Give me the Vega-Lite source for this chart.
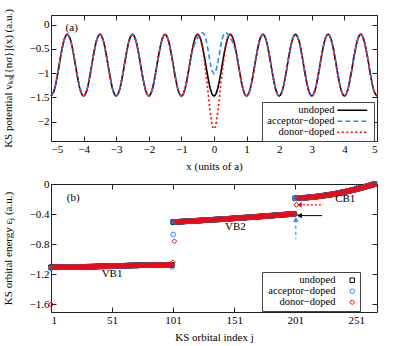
{
"$schema":"https://vega.github.io/schema/vega-lite/v6.json",
"padding":{"left":1,"top":8,"right":0,"bottom":0},
"bounds":"flush",
"spacing":43,
"resolve":{"scale":{"color":"independent","strokeDash":"independent","shape":"independent","size":"independent"},"legend":{"color":"independent","strokeDash":"independent","shape":"independent","size":"independent"}},
"config":{
"font":"Liberation Serif",
"view":{"stroke":"#222","strokeWidth":1},
"axis":{"domain":false,"grid":false,"tickSize":-5,"tickColor":"#222","labelFontSize":11,"labelColor":"#000","labelPadding":7,"titleFontSize":11,"titleFontWeight":"normal","titleColor":"#000","format":".3~g"},
"axisX":{"titlePadding":6},
"axisY":{"titlePadding":16}
},
"vconcat":[
{
"width":326,"height":126,
"data":{"values":[
{"x":-5,"u":-1.47,"v":-1.47,"w":-1.47},{"x":-4.9,"u":-1.349,"v":-1.349,"w":-1.349},{"x":-4.8,"u":-1.031,"v":-1.031,"w":-1.031},{"x":-4.7,"u":-0.639,"v":-0.639,"w":-0.639},{"x":-4.6,"u":-0.321,"v":-0.321,"w":-0.321},{"x":-4.5,"u":-0.2,"v":-0.2,"w":-0.2},{"x":-4.4,"u":-0.321,"v":-0.321,"w":-0.321},{"x":-4.3,"u":-0.639,"v":-0.639,"w":-0.639},{"x":-4.2,"u":-1.031,"v":-1.031,"w":-1.031},{"x":-4.1,"u":-1.349,"v":-1.349,"w":-1.349},
{"x":-4,"u":-1.47,"v":-1.47,"w":-1.47},{"x":-3.9,"u":-1.349,"v":-1.349,"w":-1.349},{"x":-3.8,"u":-1.031,"v":-1.031,"w":-1.031},{"x":-3.7,"u":-0.639,"v":-0.639,"w":-0.639},{"x":-3.6,"u":-0.321,"v":-0.321,"w":-0.321},{"x":-3.5,"u":-0.2,"v":-0.2,"w":-0.2},{"x":-3.4,"u":-0.321,"v":-0.321,"w":-0.321},{"x":-3.3,"u":-0.639,"v":-0.639,"w":-0.639},{"x":-3.2,"u":-1.031,"v":-1.031,"w":-1.031},{"x":-3.1,"u":-1.349,"v":-1.349,"w":-1.349},
{"x":-3,"u":-1.47,"v":-1.47,"w":-1.47},{"x":-2.9,"u":-1.349,"v":-1.349,"w":-1.349},{"x":-2.8,"u":-1.031,"v":-1.031,"w":-1.031},{"x":-2.7,"u":-0.639,"v":-0.639,"w":-0.639},{"x":-2.6,"u":-0.321,"v":-0.321,"w":-0.321},{"x":-2.5,"u":-0.2,"v":-0.2,"w":-0.2},{"x":-2.4,"u":-0.321,"v":-0.321,"w":-0.321},{"x":-2.3,"u":-0.639,"v":-0.639,"w":-0.639},{"x":-2.2,"u":-1.031,"v":-1.031,"w":-1.031},{"x":-2.1,"u":-1.349,"v":-1.349,"w":-1.349},
{"x":-2,"u":-1.47,"v":-1.47,"w":-1.47},{"x":-1.9,"u":-1.349,"v":-1.349,"w":-1.349},{"x":-1.8,"u":-1.031,"v":-1.031,"w":-1.031},{"x":-1.7,"u":-0.639,"v":-0.639,"w":-0.639},{"x":-1.6,"u":-0.321,"v":-0.321,"w":-0.321},{"x":-1.5,"u":-0.2,"v":-0.2,"w":-0.2},{"x":-1.4,"u":-0.321,"v":-0.321,"w":-0.321},{"x":-1.3,"u":-0.639,"v":-0.639,"w":-0.639},{"x":-1.2,"u":-1.031,"v":-1.031,"w":-1.031},{"x":-1.1,"u":-1.349,"v":-1.349,"w":-1.349},
{"x":-1,"u":-1.47,"v":-1.47,"w":-1.47},{"x":-0.95,"u":-1.439,"v":-1.439,"w":-1.439},{"x":-0.9,"u":-1.349,"v":-1.349,"w":-1.349},{"x":-0.85,"u":-1.208,"v":-1.208,"w":-1.208},{"x":-0.8,"u":-1.031,"v":-1.031,"w":-1.031},{"x":-0.75,"u":-0.835,"v":-0.835,"w":-0.835},{"x":-0.7,"u":-0.639,"v":-0.639,"w":-0.639},
{"x":-0.65,"u":-0.462,"v":-0.51,"w":-0.462},{"x":-0.6,"u":-0.321,"v":-0.41,"w":-0.321},{"x":-0.55,"u":-0.231,"v":-0.33,"w":-0.231},{"x":-0.5,"u":-0.2,"v":-0.27,"w":-0.2},{"x":-0.45,"u":-0.231,"v":-0.22,"w":-0.235},{"x":-0.4,"u":-0.321,"v":-0.18,"w":-0.33},{"x":-0.35,"u":-0.462,"v":-0.165,"w":-0.49},{"x":-0.3,"u":-0.639,"v":-0.2,"w":-0.71},{"x":-0.25,"u":-0.835,"v":-0.3,"w":-0.98},{"x":-0.2,"u":-1.031,"v":-0.46,"w":-1.28},{"x":-0.15,"u":-1.208,"v":-0.66,"w":-1.6},{"x":-0.1,"u":-1.349,"v":-0.84,"w":-1.88},{"x":-0.05,"u":-1.439,"v":-0.96,"w":-2.08},
{"x":0,"u":-1.47,"v":-1.01,"w":-2.15},
{"x":0.05,"u":-1.439,"v":-0.96,"w":-2.08},{"x":0.1,"u":-1.349,"v":-0.84,"w":-1.88},{"x":0.15,"u":-1.208,"v":-0.66,"w":-1.6},{"x":0.2,"u":-1.031,"v":-0.46,"w":-1.28},{"x":0.25,"u":-0.835,"v":-0.3,"w":-0.98},{"x":0.3,"u":-0.639,"v":-0.2,"w":-0.71},{"x":0.35,"u":-0.462,"v":-0.165,"w":-0.49},{"x":0.4,"u":-0.321,"v":-0.18,"w":-0.33},{"x":0.45,"u":-0.231,"v":-0.22,"w":-0.235},{"x":0.5,"u":-0.2,"v":-0.27,"w":-0.2},{"x":0.55,"u":-0.231,"v":-0.33,"w":-0.231},{"x":0.6,"u":-0.321,"v":-0.41,"w":-0.321},{"x":0.65,"u":-0.462,"v":-0.51,"w":-0.462},
{"x":0.7,"u":-0.639,"v":-0.639,"w":-0.639},{"x":0.75,"u":-0.835,"v":-0.835,"w":-0.835},{"x":0.8,"u":-1.031,"v":-1.031,"w":-1.031},{"x":0.85,"u":-1.208,"v":-1.208,"w":-1.208},{"x":0.9,"u":-1.349,"v":-1.349,"w":-1.349},{"x":0.95,"u":-1.439,"v":-1.439,"w":-1.439},{"x":1,"u":-1.47,"v":-1.47,"w":-1.47},
{"x":1.1,"u":-1.349,"v":-1.349,"w":-1.349},{"x":1.2,"u":-1.031,"v":-1.031,"w":-1.031},{"x":1.3,"u":-0.639,"v":-0.639,"w":-0.639},{"x":1.4,"u":-0.321,"v":-0.321,"w":-0.321},{"x":1.5,"u":-0.2,"v":-0.2,"w":-0.2},{"x":1.6,"u":-0.321,"v":-0.321,"w":-0.321},{"x":1.7,"u":-0.639,"v":-0.639,"w":-0.639},{"x":1.8,"u":-1.031,"v":-1.031,"w":-1.031},{"x":1.9,"u":-1.349,"v":-1.349,"w":-1.349},
{"x":2,"u":-1.47,"v":-1.47,"w":-1.47},{"x":2.1,"u":-1.349,"v":-1.349,"w":-1.349},{"x":2.2,"u":-1.031,"v":-1.031,"w":-1.031},{"x":2.3,"u":-0.639,"v":-0.639,"w":-0.639},{"x":2.4,"u":-0.321,"v":-0.321,"w":-0.321},{"x":2.5,"u":-0.2,"v":-0.2,"w":-0.2},{"x":2.6,"u":-0.321,"v":-0.321,"w":-0.321},{"x":2.7,"u":-0.639,"v":-0.639,"w":-0.639},{"x":2.8,"u":-1.031,"v":-1.031,"w":-1.031},{"x":2.9,"u":-1.349,"v":-1.349,"w":-1.349},
{"x":3,"u":-1.47,"v":-1.47,"w":-1.47},{"x":3.1,"u":-1.349,"v":-1.349,"w":-1.349},{"x":3.2,"u":-1.031,"v":-1.031,"w":-1.031},{"x":3.3,"u":-0.639,"v":-0.639,"w":-0.639},{"x":3.4,"u":-0.321,"v":-0.321,"w":-0.321},{"x":3.5,"u":-0.2,"v":-0.2,"w":-0.2},{"x":3.6,"u":-0.321,"v":-0.321,"w":-0.321},{"x":3.7,"u":-0.639,"v":-0.639,"w":-0.639},{"x":3.8,"u":-1.031,"v":-1.031,"w":-1.031},{"x":3.9,"u":-1.349,"v":-1.349,"w":-1.349},
{"x":4,"u":-1.47,"v":-1.47,"w":-1.47},{"x":4.1,"u":-1.349,"v":-1.349,"w":-1.349},{"x":4.2,"u":-1.031,"v":-1.031,"w":-1.031},{"x":4.3,"u":-0.639,"v":-0.639,"w":-0.639},{"x":4.4,"u":-0.321,"v":-0.321,"w":-0.321},{"x":4.5,"u":-0.2,"v":-0.2,"w":-0.2},{"x":4.6,"u":-0.321,"v":-0.321,"w":-0.321},{"x":4.7,"u":-0.639,"v":-0.639,"w":-0.639},{"x":4.8,"u":-1.031,"v":-1.031,"w":-1.031},{"x":4.9,"u":-1.349,"v":-1.349,"w":-1.349},
{"x":5,"u":-1.47,"v":-1.47,"w":-1.47}
]},
"layer":[
{"transform":[{"fold":["u","v","w"],"as":["key","val"]}],
"mark":{"type":"line","interpolate":"monotone","strokeWidth":1.6},
"encoding":{
"x":{"field":"x","type":"quantitative","scale":{"domain":[-5,5],"nice":false,"zero":false},"axis":{"values":[-5,-4,-3,-2,-1,0,1,2,3,4,5],"title":"x (units of a)"}},
"y":{"field":"val","type":"quantitative","scale":{"domain":[-2.4,0.2],"nice":false,"zero":false},"axis":{"values":[0,-0.5,-1,-1.5,-2],"title":"KS potential vₖₛ[{nσ}](x) (a.u.)"}},
"color":{"field":"key","type":"nominal","scale":{"domain":["u","v","w"],"range":["#000000","#1f8fff","#ff0000"]},
"legend":{"orient":"none","legendX":211,"legendY":87,"title":null,"symbolType":"M-5,0H5","symbolSize":36,"symbolStrokeWidth":1.6,"symbolOffset":82,"labelAlign":"right","labelOffset":-23,"labelFontSize":10.5,"rowPadding":0,"padding":3,"fillColor":"#ffffff","strokeColor":"#444444","labelExpr":"datum.value == 'u' ? 'undoped' : datum.value == 'v' ? 'acceptor−doped' : 'donor−doped'"}},
"strokeDash":{"field":"key","type":"nominal","scale":{"domain":["u","v","w"],"range":[[1,0],[5,3],[2,2.5]]},
"legend":{"orient":"none","legendX":211,"legendY":87,"title":null,"symbolType":"M-5,0H5","symbolSize":36,"symbolStrokeWidth":1.6,"symbolOffset":82,"labelAlign":"right","labelOffset":-23,"labelFontSize":10.5,"rowPadding":0,"padding":3,"fillColor":"#ffffff","strokeColor":"#444444","labelExpr":"datum.value == 'u' ? 'undoped' : datum.value == 'v' ? 'acceptor−doped' : 'donor−doped'"}}
}},
{"data":{"values":[{"x":-4.365,"y":-0.07,"t":"(a)"}]},
"mark":{"type":"text","align":"center","baseline":"middle","fontSize":11},
"encoding":{
"x":{"field":"x","type":"quantitative","scale":{"domain":[-5,5],"nice":false,"zero":false},"axis":{"orient":"top","labels":false,"title":null,"values":[-5,-4,-3,-2,-1,0,1,2,3,4,5]}},
"y":{"field":"y","type":"quantitative","scale":{"domain":[-2.4,0.2],"nice":false,"zero":false},"axis":{"orient":"right","labels":false,"title":null,"values":[0,-0.5,-1,-1.5,-2]}},
"text":{"field":"t"}}}
],
"resolve":{"axis":{"x":"independent","y":"independent"}}
},
{
"width":326,"height":128,
"layer":[
{"data":{"values":[
{"j":1,"u":-1.105,"v":-1.12,"w":-1.6},{"j":2,"u":-1.105,"v":-1.105,"w":-1.105},{"j":3,"u":-1.105,"v":-1.105,"w":-1.105},{"j":4,"u":-1.105,"v":-1.105,"w":-1.105},{"j":5,"u":-1.105,"v":-1.105,"w":-1.105},{"j":6,"u":-1.105,"v":-1.105,"w":-1.105},{"j":7,"u":-1.105,"v":-1.105,"w":-1.105},{"j":8,"u":-1.105,"v":-1.105,"w":-1.105},{"j":9,"u":-1.105,"v":-1.105,"w":-1.105},
{"j":10,"u":-1.104,"v":-1.104,"w":-1.104},{"j":11,"u":-1.104,"v":-1.104,"w":-1.104},{"j":12,"u":-1.104,"v":-1.104,"w":-1.104},{"j":13,"u":-1.104,"v":-1.104,"w":-1.104},{"j":14,"u":-1.104,"v":-1.104,"w":-1.104},{"j":15,"u":-1.104,"v":-1.104,"w":-1.104},
{"j":16,"u":-1.103,"v":-1.103,"w":-1.103},{"j":17,"u":-1.103,"v":-1.103,"w":-1.103},{"j":18,"u":-1.103,"v":-1.103,"w":-1.103},{"j":19,"u":-1.103,"v":-1.103,"w":-1.103},
{"j":20,"u":-1.102,"v":-1.102,"w":-1.102},{"j":21,"u":-1.102,"v":-1.102,"w":-1.102},{"j":22,"u":-1.102,"v":-1.102,"w":-1.102},
{"j":23,"u":-1.101,"v":-1.101,"w":-1.101},{"j":24,"u":-1.101,"v":-1.101,"w":-1.101},{"j":25,"u":-1.101,"v":-1.101,"w":-1.101},{"j":26,"u":-1.101,"v":-1.101,"w":-1.101},
{"j":27,"u":-1.1,"v":-1.1,"w":-1.1},{"j":28,"u":-1.1,"v":-1.1,"w":-1.1},
{"j":29,"u":-1.099,"v":-1.099,"w":-1.099},{"j":30,"u":-1.099,"v":-1.099,"w":-1.099},{"j":31,"u":-1.099,"v":-1.099,"w":-1.099},
{"j":32,"u":-1.098,"v":-1.098,"w":-1.098},{"j":33,"u":-1.098,"v":-1.098,"w":-1.098},
{"j":34,"u":-1.097,"v":-1.097,"w":-1.097},{"j":35,"u":-1.097,"v":-1.097,"w":-1.097},{"j":36,"u":-1.097,"v":-1.097,"w":-1.097},
{"j":37,"u":-1.096,"v":-1.096,"w":-1.096},{"j":38,"u":-1.096,"v":-1.096,"w":-1.096},
{"j":39,"u":-1.095,"v":-1.095,"w":-1.095},{"j":40,"u":-1.095,"v":-1.095,"w":-1.095},
{"j":41,"u":-1.094,"v":-1.094,"w":-1.094},{"j":42,"u":-1.094,"v":-1.094,"w":-1.094},{"j":43,"u":-1.094,"v":-1.094,"w":-1.094},
{"j":44,"u":-1.093,"v":-1.093,"w":-1.093},{"j":45,"u":-1.093,"v":-1.093,"w":-1.093},
{"j":46,"u":-1.092,"v":-1.092,"w":-1.092},{"j":47,"u":-1.092,"v":-1.092,"w":-1.092},
{"j":48,"u":-1.091,"v":-1.091,"w":-1.091},{"j":49,"u":-1.091,"v":-1.091,"w":-1.091},
{"j":50,"u":-1.09,"v":-1.09,"w":-1.09},{"j":51,"u":-1.09,"v":-1.09,"w":-1.09},
{"j":52,"u":-1.089,"v":-1.089,"w":-1.089},{"j":53,"u":-1.089,"v":-1.089,"w":-1.089},
{"j":54,"u":-1.088,"v":-1.088,"w":-1.088},{"j":55,"u":-1.088,"v":-1.088,"w":-1.088},
{"j":56,"u":-1.087,"v":-1.087,"w":-1.087},{"j":57,"u":-1.087,"v":-1.087,"w":-1.087},
{"j":58,"u":-1.086,"v":-1.086,"w":-1.086},{"j":59,"u":-1.086,"v":-1.086,"w":-1.086},{"j":60,"u":-1.086,"v":-1.086,"w":-1.086},
{"j":61,"u":-1.085,"v":-1.085,"w":-1.085},{"j":62,"u":-1.085,"v":-1.085,"w":-1.085},
{"j":63,"u":-1.084,"v":-1.084,"w":-1.084},{"j":64,"u":-1.084,"v":-1.084,"w":-1.084},
{"j":65,"u":-1.083,"v":-1.083,"w":-1.083},{"j":66,"u":-1.083,"v":-1.083,"w":-1.083},{"j":67,"u":-1.083,"v":-1.083,"w":-1.083},
{"j":68,"u":-1.082,"v":-1.082,"w":-1.082},{"j":69,"u":-1.082,"v":-1.082,"w":-1.082},
{"j":70,"u":-1.081,"v":-1.081,"w":-1.081},{"j":71,"u":-1.081,"v":-1.081,"w":-1.081},{"j":72,"u":-1.081,"v":-1.081,"w":-1.081},
{"j":73,"u":-1.08,"v":-1.08,"w":-1.08},{"j":74,"u":-1.08,"v":-1.08,"w":-1.08},
{"j":75,"u":-1.079,"v":-1.079,"w":-1.079},{"j":76,"u":-1.079,"v":-1.079,"w":-1.079},{"j":77,"u":-1.079,"v":-1.079,"w":-1.079},{"j":78,"u":-1.079,"v":-1.079,"w":-1.079},
{"j":79,"u":-1.078,"v":-1.078,"w":-1.078},{"j":80,"u":-1.078,"v":-1.078,"w":-1.078},{"j":81,"u":-1.078,"v":-1.078,"w":-1.078},
{"j":82,"u":-1.077,"v":-1.077,"w":-1.077},{"j":83,"u":-1.077,"v":-1.077,"w":-1.077},{"j":84,"u":-1.077,"v":-1.077,"w":-1.077},{"j":85,"u":-1.077,"v":-1.077,"w":-1.077},
{"j":86,"u":-1.076,"v":-1.076,"w":-1.076},{"j":87,"u":-1.076,"v":-1.076,"w":-1.076},{"j":88,"u":-1.076,"v":-1.076,"w":-1.076},{"j":89,"u":-1.076,"v":-1.076,"w":-1.076},{"j":90,"u":-1.076,"v":-1.076,"w":-1.076},{"j":91,"u":-1.076,"v":-1.076,"w":-1.076},
{"j":92,"u":-1.075,"v":-1.075,"w":-1.075},{"j":93,"u":-1.075,"v":-1.075,"w":-1.075},{"j":94,"u":-1.075,"v":-1.075,"w":-1.075},{"j":95,"u":-1.075,"v":-1.075,"w":-1.075},{"j":96,"u":-1.075,"v":-1.075,"w":-1.075},{"j":97,"u":-1.075,"v":-1.075,"w":-1.075},{"j":98,"u":-1.075,"v":-1.075,"w":-1.075},{"j":99,"u":-1.075,"v":-1.075,"w":-1.075},
{"j":100,"u":-1.075,"v":-1.1,"w":-1.075},
{"j":101,"u":-0.505,"v":-0.67,"w":-1.04},
{"j":102,"u":-0.504,"v":-0.504,"w":-0.76},
{"j":103,"u":-0.503,"v":-0.503,"w":-0.503},{"j":104,"u":-0.502,"v":-0.502,"w":-0.502},{"j":105,"u":-0.502,"v":-0.502,"w":-0.502},{"j":106,"u":-0.501,"v":-0.501,"w":-0.501},{"j":107,"u":-0.5,"v":-0.5,"w":-0.5},{"j":108,"u":-0.499,"v":-0.499,"w":-0.499},{"j":109,"u":-0.498,"v":-0.498,"w":-0.498},{"j":110,"u":-0.497,"v":-0.497,"w":-0.497},
{"j":111,"u":-0.496,"v":-0.496,"w":-0.496},{"j":112,"u":-0.495,"v":-0.495,"w":-0.495},{"j":113,"u":-0.494,"v":-0.494,"w":-0.494},{"j":114,"u":-0.494,"v":-0.494,"w":-0.494},{"j":115,"u":-0.493,"v":-0.493,"w":-0.493},{"j":116,"u":-0.492,"v":-0.492,"w":-0.492},{"j":117,"u":-0.491,"v":-0.491,"w":-0.491},{"j":118,"u":-0.49,"v":-0.49,"w":-0.49},{"j":119,"u":-0.489,"v":-0.489,"w":-0.489},{"j":120,"u":-0.488,"v":-0.488,"w":-0.488},
{"j":121,"u":-0.487,"v":-0.487,"w":-0.487},{"j":122,"u":-0.486,"v":-0.486,"w":-0.486},{"j":123,"u":-0.485,"v":-0.485,"w":-0.485},{"j":124,"u":-0.484,"v":-0.484,"w":-0.484},{"j":125,"u":-0.483,"v":-0.483,"w":-0.483},{"j":126,"u":-0.482,"v":-0.482,"w":-0.482},{"j":127,"u":-0.481,"v":-0.481,"w":-0.481},{"j":128,"u":-0.48,"v":-0.48,"w":-0.48},{"j":129,"u":-0.479,"v":-0.479,"w":-0.479},{"j":130,"u":-0.478,"v":-0.478,"w":-0.478},
{"j":131,"u":-0.477,"v":-0.477,"w":-0.477},{"j":132,"u":-0.476,"v":-0.476,"w":-0.476},{"j":133,"u":-0.475,"v":-0.475,"w":-0.475},{"j":134,"u":-0.474,"v":-0.474,"w":-0.474},{"j":135,"u":-0.473,"v":-0.473,"w":-0.473},{"j":136,"u":-0.472,"v":-0.472,"w":-0.472},{"j":137,"u":-0.471,"v":-0.471,"w":-0.471},{"j":138,"u":-0.47,"v":-0.47,"w":-0.47},{"j":139,"u":-0.469,"v":-0.469,"w":-0.469},{"j":140,"u":-0.468,"v":-0.468,"w":-0.468},
{"j":141,"u":-0.467,"v":-0.467,"w":-0.467},{"j":142,"u":-0.466,"v":-0.466,"w":-0.466},{"j":143,"u":-0.465,"v":-0.465,"w":-0.465},{"j":144,"u":-0.464,"v":-0.464,"w":-0.464},{"j":145,"u":-0.463,"v":-0.463,"w":-0.463},{"j":146,"u":-0.462,"v":-0.462,"w":-0.462},{"j":147,"u":-0.461,"v":-0.461,"w":-0.461},{"j":148,"u":-0.46,"v":-0.46,"w":-0.46},{"j":149,"u":-0.458,"v":-0.458,"w":-0.458},{"j":150,"u":-0.457,"v":-0.457,"w":-0.457},
{"j":151,"u":-0.456,"v":-0.456,"w":-0.456},{"j":152,"u":-0.455,"v":-0.455,"w":-0.455},{"j":153,"u":-0.454,"v":-0.454,"w":-0.454},{"j":154,"u":-0.453,"v":-0.453,"w":-0.453},{"j":155,"u":-0.452,"v":-0.452,"w":-0.452},{"j":156,"u":-0.451,"v":-0.451,"w":-0.451},{"j":157,"u":-0.45,"v":-0.45,"w":-0.45},{"j":158,"u":-0.448,"v":-0.448,"w":-0.448},{"j":159,"u":-0.447,"v":-0.447,"w":-0.447},{"j":160,"u":-0.446,"v":-0.446,"w":-0.446},
{"j":161,"u":-0.445,"v":-0.445,"w":-0.445},{"j":162,"u":-0.444,"v":-0.444,"w":-0.444},{"j":163,"u":-0.443,"v":-0.443,"w":-0.443},{"j":164,"u":-0.442,"v":-0.442,"w":-0.442},{"j":165,"u":-0.44,"v":-0.44,"w":-0.44},{"j":166,"u":-0.439,"v":-0.439,"w":-0.439},{"j":167,"u":-0.438,"v":-0.438,"w":-0.438},{"j":168,"u":-0.437,"v":-0.437,"w":-0.437},{"j":169,"u":-0.436,"v":-0.436,"w":-0.436},{"j":170,"u":-0.434,"v":-0.434,"w":-0.434},
{"j":171,"u":-0.433,"v":-0.433,"w":-0.433},{"j":172,"u":-0.432,"v":-0.432,"w":-0.432},{"j":173,"u":-0.431,"v":-0.431,"w":-0.431},{"j":174,"u":-0.43,"v":-0.43,"w":-0.43},{"j":175,"u":-0.428,"v":-0.428,"w":-0.428},{"j":176,"u":-0.427,"v":-0.427,"w":-0.427},{"j":177,"u":-0.426,"v":-0.426,"w":-0.426},{"j":178,"u":-0.425,"v":-0.425,"w":-0.425},{"j":179,"u":-0.423,"v":-0.423,"w":-0.423},{"j":180,"u":-0.422,"v":-0.422,"w":-0.422},
{"j":181,"u":-0.421,"v":-0.421,"w":-0.421},{"j":182,"u":-0.42,"v":-0.42,"w":-0.42},{"j":183,"u":-0.418,"v":-0.418,"w":-0.418},{"j":184,"u":-0.417,"v":-0.417,"w":-0.417},{"j":185,"u":-0.416,"v":-0.416,"w":-0.416},{"j":186,"u":-0.415,"v":-0.415,"w":-0.415},{"j":187,"u":-0.413,"v":-0.413,"w":-0.413},{"j":188,"u":-0.412,"v":-0.412,"w":-0.412},{"j":189,"u":-0.411,"v":-0.411,"w":-0.411},{"j":190,"u":-0.41,"v":-0.41,"w":-0.41},
{"j":191,"u":-0.408,"v":-0.408,"w":-0.408},{"j":192,"u":-0.407,"v":-0.407,"w":-0.407},{"j":193,"u":-0.406,"v":-0.406,"w":-0.406},{"j":194,"u":-0.404,"v":-0.404,"w":-0.404},{"j":195,"u":-0.403,"v":-0.403,"w":-0.403},{"j":196,"u":-0.402,"v":-0.402,"w":-0.402},{"j":197,"u":-0.4,"v":-0.4,"w":-0.4},{"j":198,"u":-0.399,"v":-0.399,"w":-0.399},{"j":199,"u":-0.398,"v":-0.398,"w":-0.398},{"j":200,"u":-0.396,"v":-0.396,"w":-0.396},
{"j":201,"u":-0.19,"v":-0.19,"w":-0.4},{"j":202,"u":-0.189,"v":-0.189,"w":-0.277},
{"j":203,"u":-0.188,"v":-0.188,"w":-0.188},{"j":204,"u":-0.187,"v":-0.187,"w":-0.187},{"j":205,"u":-0.186,"v":-0.186,"w":-0.186},{"j":206,"u":-0.185,"v":-0.185,"w":-0.185},{"j":207,"u":-0.184,"v":-0.184,"w":-0.184},{"j":208,"u":-0.183,"v":-0.183,"w":-0.183},{"j":209,"u":-0.182,"v":-0.182,"w":-0.182},{"j":210,"u":-0.181,"v":-0.181,"w":-0.181},
{"j":211,"u":-0.179,"v":-0.179,"w":-0.179},{"j":212,"u":-0.178,"v":-0.178,"w":-0.178},{"j":213,"u":-0.176,"v":-0.176,"w":-0.176},{"j":214,"u":-0.175,"v":-0.175,"w":-0.175},{"j":215,"u":-0.173,"v":-0.173,"w":-0.173},{"j":216,"u":-0.171,"v":-0.171,"w":-0.171},{"j":217,"u":-0.17,"v":-0.17,"w":-0.17},{"j":218,"u":-0.168,"v":-0.168,"w":-0.168},{"j":219,"u":-0.166,"v":-0.166,"w":-0.166},{"j":220,"u":-0.164,"v":-0.164,"w":-0.164},
{"j":221,"u":-0.162,"v":-0.162,"w":-0.162},{"j":222,"u":-0.16,"v":-0.16,"w":-0.16},{"j":223,"u":-0.157,"v":-0.157,"w":-0.157},{"j":224,"u":-0.155,"v":-0.155,"w":-0.155},{"j":225,"u":-0.153,"v":-0.153,"w":-0.153},{"j":226,"u":-0.15,"v":-0.15,"w":-0.15},{"j":227,"u":-0.148,"v":-0.148,"w":-0.148},{"j":228,"u":-0.146,"v":-0.146,"w":-0.146},{"j":229,"u":-0.143,"v":-0.143,"w":-0.143},{"j":230,"u":-0.14,"v":-0.14,"w":-0.14},
{"j":231,"u":-0.138,"v":-0.138,"w":-0.138},{"j":232,"u":-0.135,"v":-0.135,"w":-0.135},{"j":233,"u":-0.132,"v":-0.132,"w":-0.132},{"j":234,"u":-0.129,"v":-0.129,"w":-0.129},{"j":235,"u":-0.126,"v":-0.126,"w":-0.126},{"j":236,"u":-0.123,"v":-0.123,"w":-0.123},{"j":237,"u":-0.12,"v":-0.12,"w":-0.12},{"j":238,"u":-0.117,"v":-0.117,"w":-0.117},{"j":239,"u":-0.113,"v":-0.113,"w":-0.113},{"j":240,"u":-0.11,"v":-0.11,"w":-0.11},
{"j":241,"u":-0.107,"v":-0.107,"w":-0.107},{"j":242,"u":-0.103,"v":-0.103,"w":-0.103},{"j":243,"u":-0.1,"v":-0.1,"w":-0.1},{"j":244,"u":-0.096,"v":-0.096,"w":-0.096},{"j":245,"u":-0.092,"v":-0.092,"w":-0.092},{"j":246,"u":-0.089,"v":-0.089,"w":-0.089},{"j":247,"u":-0.085,"v":-0.085,"w":-0.085},{"j":248,"u":-0.081,"v":-0.081,"w":-0.081},{"j":249,"u":-0.077,"v":-0.077,"w":-0.077},{"j":250,"u":-0.073,"v":-0.073,"w":-0.073},
{"j":251,"u":-0.069,"v":-0.069,"w":-0.069},{"j":252,"u":-0.065,"v":-0.065,"w":-0.065},{"j":253,"u":-0.061,"v":-0.061,"w":-0.061},{"j":254,"u":-0.057,"v":-0.057,"w":-0.057},{"j":255,"u":-0.052,"v":-0.052,"w":-0.052},{"j":256,"u":-0.048,"v":-0.048,"w":-0.048},{"j":257,"u":-0.043,"v":-0.043,"w":-0.043},{"j":258,"u":-0.039,"v":-0.039,"w":-0.039},{"j":259,"u":-0.034,"v":-0.034,"w":-0.034},{"j":260,"u":-0.03,"v":-0.03,"w":-0.03},
{"j":261,"u":-0.025,"v":-0.025,"w":-0.025},{"j":262,"u":-0.02,"v":-0.02,"w":-0.02},{"j":263,"u":-0.015,"v":-0.015,"w":-0.015},{"j":264,"u":-0.01,"v":-0.01,"w":-0.01},{"j":265,"u":-0.005,"v":-0.005,"w":-0.005},{"j":266,"u":0,"v":0,"w":0}
]},
"transform":[{"fold":["u","v","w"],"as":["key","val"]}],
"mark":{"type":"point","filled":false,"strokeWidth":1,"opacity":1},
"encoding":{
"x":{"field":"j","type":"quantitative","scale":{"domain":[1,268],"nice":false,"zero":false},"axis":{"values":[1,51,101,151,201,251],"title":"KS orbital index j"}},
"y":{"field":"val","type":"quantitative","scale":{"domain":[-1.7,0],"nice":false,"zero":false},"axis":{"values":[0,-0.4,-0.8,-1.2,-1.6],"title":"KS orbital energy εⱼ (a.u.)"}},
"color":{"field":"key","type":"nominal","scale":{"domain":["u","v","w"],"range":["#000000","#1f8fff","#ff0000"]},
"legend":{"orient":"none","legendX":211,"legendY":88,"title":null,"symbolStrokeWidth":1,"symbolOffset":82,"labelAlign":"right","labelOffset":-22,"labelFontSize":10.5,"rowPadding":0,"padding":3,"fillColor":"#ffffff","strokeColor":"#444444","labelExpr":"datum.value == 'u' ? 'undoped' : datum.value == 'v' ? 'acceptor−doped' : 'donor−doped'"}},
"shape":{"field":"key","type":"nominal","scale":{"domain":["u","v","w"],"range":["square","circle","diamond"]},
"legend":{"orient":"none","legendX":211,"legendY":88,"title":null,"symbolStrokeWidth":1,"symbolOffset":82,"labelAlign":"right","labelOffset":-22,"labelFontSize":10.5,"rowPadding":0,"padding":3,"fillColor":"#ffffff","strokeColor":"#444444","labelExpr":"datum.value == 'u' ? 'undoped' : datum.value == 'v' ? 'acceptor−doped' : 'donor−doped'"}},
"size":{"field":"key","type":"nominal","scale":{"domain":["u","v","w"],"range":[20,24,36]},
"legend":{"orient":"none","legendX":211,"legendY":88,"title":null,"symbolStrokeWidth":1,"symbolOffset":82,"labelAlign":"right","labelOffset":-22,"labelFontSize":10.5,"rowPadding":0,"padding":3,"fillColor":"#ffffff","strokeColor":"#444444","labelExpr":"datum.value == 'u' ? 'undoped' : datum.value == 'v' ? 'acceptor−doped' : 'donor−doped'"}},
"order":{"field":"key"}
}},
{"data":{"values":[{"j":203,"j2":223,"e":-0.42}]},
"mark":{"type":"rule","color":"#000000","strokeWidth":1},
"encoding":{"x":{"field":"j","type":"quantitative","axis":null},"x2":{"field":"j2"},"y":{"field":"e","type":"quantitative","axis":null}}},
{"data":{"values":[{"j":204,"j2":224,"e":-0.277}]},
"mark":{"type":"rule","color":"#ff0000","strokeWidth":1.2,"strokeDash":[2,2]},
"encoding":{"x":{"field":"j","type":"quantitative","axis":null},"x2":{"field":"j2"},"y":{"field":"e","type":"quantitative","axis":null}}},
{"data":{"values":[{"j":201.5,"e":-0.475,"e2":-0.73}]},
"mark":{"type":"rule","color":"#1f8fff","strokeWidth":1.2,"strokeDash":[3,3]},
"encoding":{"x":{"field":"j","type":"quantitative","axis":null},"y":{"field":"e","type":"quantitative","axis":null},"y2":{"field":"e2"}}},
{"data":{"values":[{"j":204.5,"e":-0.42}]},
"mark":{"type":"point","shape":"triangle-left","filled":true,"color":"#000000","size":30,"opacity":1},
"encoding":{"x":{"field":"j","type":"quantitative","axis":null},"y":{"field":"e","type":"quantitative","axis":null}}},
{"data":{"values":[{"j":204.5,"e":-0.277}]},
"mark":{"type":"point","shape":"triangle-left","filled":true,"color":"#ff0000","size":30,"opacity":1},
"encoding":{"x":{"field":"j","type":"quantitative","axis":null},"y":{"field":"e","type":"quantitative","axis":null}}},
{"data":{"values":[{"j":201.5,"e":-0.47}]},
"mark":{"type":"point","shape":"triangle-up","filled":true,"color":"#1f8fff","size":30,"opacity":1},
"encoding":{"x":{"field":"j","type":"quantitative","axis":null},"y":{"field":"e","type":"quantitative","axis":null}}},
{"data":{"values":[{"j":19.2,"e":-0.18,"t":"(b)"},{"j":51,"e":-1.195,"t":"VB1"},{"j":152,"e":-0.57,"t":"VB2"},{"j":242,"e":-0.2,"t":"CB1"}]},
"mark":{"type":"text","align":"center","baseline":"middle","fontSize":11},
"encoding":{
"x":{"field":"j","type":"quantitative","scale":{"domain":[1,268],"nice":false,"zero":false},"axis":{"orient":"top","labels":false,"title":null,"values":[1,51,101,151,201,251]}},
"y":{"field":"e","type":"quantitative","scale":{"domain":[-1.7,0],"nice":false,"zero":false},"axis":{"orient":"right","labels":false,"title":null,"values":[0,-0.4,-0.8,-1.2,-1.6]}},
"text":{"field":"t"}}}
],
"resolve":{"axis":{"x":"independent","y":"independent"}}
}
]
}
